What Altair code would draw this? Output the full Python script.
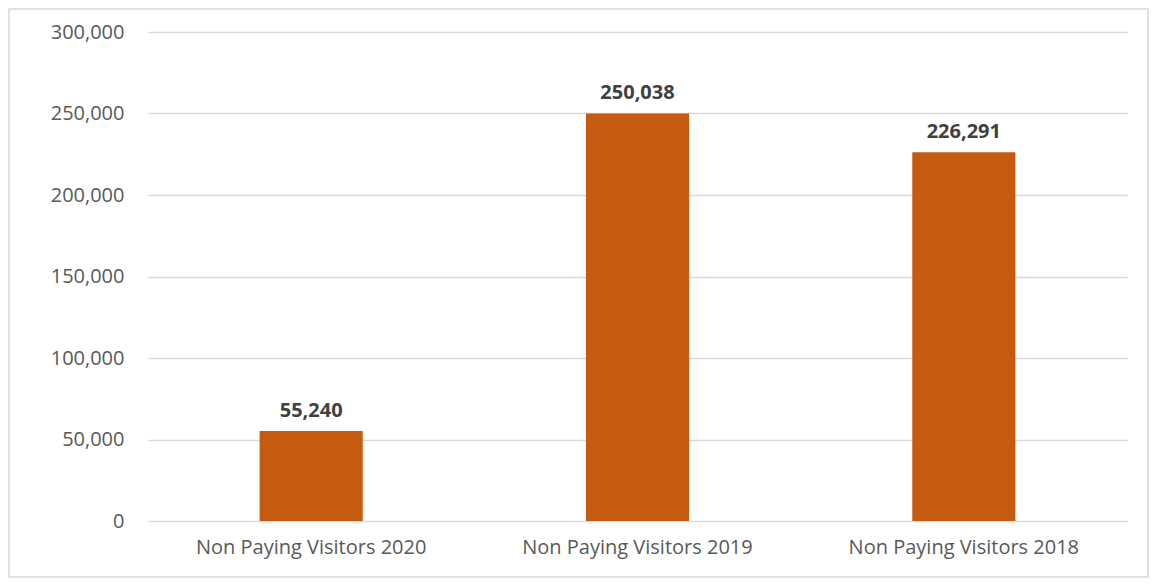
import altair as alt
import pandas as pd

categories = ["Non Paying Visitors 2020", "Non Paying Visitors 2019", "Non Paying Visitors 2018"]
values = [55240, 250038, 226291]
y_ticks = [0, 50000, 100000, 150000, 200000, 250000, 300000]

df = pd.DataFrame({"category": categories, "value": values})

FONT = "Open Sans"
W, H = 979, 489

x = alt.X("category:N", sort=categories, title=None,
          scale=alt.Scale(paddingInner=0.684, paddingOuter=0.342),
          axis=alt.Axis(labelAngle=0, labelFont=FONT, labelFontSize=20, labelColor="#595959",
                        labelPadding=16, labelLimit=400, ticks=False, tickSize=0,
                        domain=False, grid=False))
y = alt.Y("value:Q", title=None,
          scale=alt.Scale(domain=[0, 300000]),
          axis=alt.Axis(values=y_ticks, format=",d",
                        labelFont=FONT, labelFontSize=20, labelColor="#595959", labelPadding=24,
                        ticks=False, tickSize=0, domain=False, gridColor="#D9D9D9", gridWidth=1.3))

bars = alt.Chart(df).mark_bar(color="#C55A11").encode(x=x, y=y)
labels = alt.Chart(df).mark_text(
    font=FONT, fontSize=20, fontWeight="bold", color="#404040", baseline="bottom", dy=-10
).encode(x=x, y=y, text=alt.Text("value:Q", format=",d"))

border = alt.Chart(pd.DataFrame({"a": [0]})).mark_rect(
    fillOpacity=0, fill="white", stroke="#D9D9D9", strokeWidth=1.5
).encode(x=alt.value(-139), x2=alt.value(1000), y=alt.value(-23), y2=alt.value(545))

chart = alt.layer(bars, labels, border).properties(
    width=W, height=H,
    autosize=alt.AutoSizeParams(type="none"),
    padding={"left": 140, "top": 24, "right": 22, "bottom": 57},
    background="white",
).configure_view(stroke=None)

chart.save("out.html", embed_options={"renderer": "svg", "actions": False})
